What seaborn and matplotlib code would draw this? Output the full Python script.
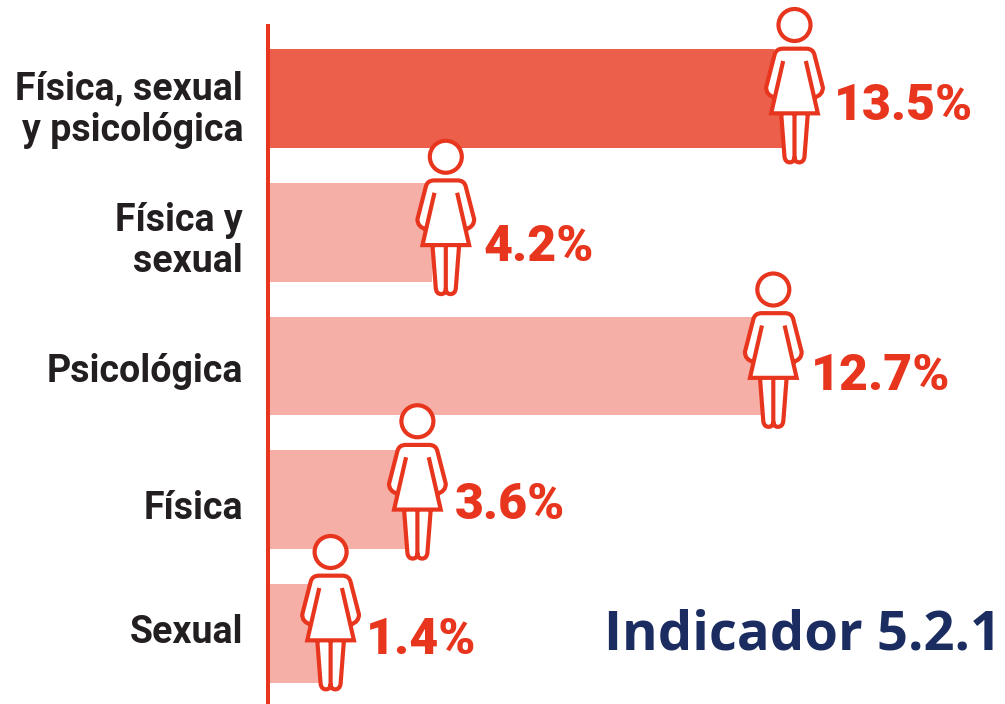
import numpy as np
import pandas as pd
import matplotlib
matplotlib.use('Agg')
import matplotlib.pyplot as plt
import seaborn as sns
from matplotlib.patches import Circle, PathPatch
from matplotlib.path import Path
from matplotlib.transforms import Affine2D

categories = ['Física, sexual\ny psicológica', 'Física y\nsexual', 'Psicológica', 'Física', 'Sexual']
values = [13.5, 4.2, 12.7, 3.6, 1.4]
value_labels = ['13.5%', '4.2%', '12.7%', '3.6%', '1.4%']
indicator = 'Indicador 5.2.1'

RED = '#E8351E'
DARK_BAR = '#EC5F4B'
LIGHT_BAR = '#F5AFA6'
NAVY = '#1B2D60'
W, H = 1005, 704
STEP = 133.75

sns.set_theme(style='white')
plt.rcParams['font.family'] = ['Roboto', 'DejaVu Sans']

fig = plt.figure(figsize=(W / 100, H / 100), dpi=100)
ax = fig.add_axes([268 / W, 0, (W - 268) / W, 1])

df = pd.DataFrame({'cat': categories, 'val': values})
colors = [DARK_BAR] + [LIGHT_BAR] * 4
sns.barplot(data=df, x='val', y='cat', hue='cat', palette=colors, legend=False,
            width=0.74, saturation=1, linewidth=0, ax=ax)

ax.set_xlim(0, (W - 268) / 39)
ax.set_ylim((H - 98.5) / STEP, -98.5 / STEP)
ax.set_xlabel('')
ax.set_ylabel('')
ax.set_xticks([])
ax.set_yticks([])
for s in ['top', 'right', 'bottom']:
    ax.spines[s].set_visible(False)
ax.spines['left'].set_color(RED)
ax.spines['left'].set_linewidth(2.9)
ax.spines['left'].set_bounds((H - 98.5) / STEP, (26 - 98.5) / STEP)


# woman icon, units are 1/3 px around the head centre, y down
def icon_paths():
    M, L, C = Path.MOVETO, Path.LINETO, Path.CURVE3
    outer = [(-35, 71), (-60, 71), (-67, 110), (-82, 187), (-82, 205), (-60, 218),
             (-70, 265), (-40, 265), (-30, 395), (-28, 412), (-8, 412), (0, 395),
             (8, 412), (28, 412), (30, 395), (40, 265), (70, 265), (60, 218),
             (82, 205), (82, 187), (67, 110), (60, 71), (35, 71)]
    fill = Path(outer + [outer[0]], [M] + [L] * (len(outer) - 1) + [Path.CLOSEPOLY])

    v, c = [], []

    def add(pts, codes):
        v.extend(pts)
        c.extend(codes)

    # shoulders and arms
    add([(-59, 218), (-86, 210), (-85, 187), (-60, 90), (-56, 71), (-35, 71), (35, 71),
         (56, 71), (60, 90), (85, 187), (86, 210), (59, 218)],
        [M, C, C, L, C, C, L, C, C, L, C, C])
    # dress
    add([(-34, 108), (-70, 265), (70, 265), (34, 108)], [M, L, L, L])
    # legs
    add([(-40, 265), (-30, 395), (-28, 412), (-14, 412), (0, 412), (0, 395), (0, 265)],
        [M, L, C, C, C, C, L])
    add([(0, 395), (0, 412), (14, 412), (28, 412), (30, 395), (40, 265)],
        [M, C, C, C, C, L])
    return fill, Path(v, c)


fill_path, line_path = icon_paths()

# head position relative to bar end / bar centre, in px
icon_dx = [0, 14, 10, 9, 8]
icon_dy = [-73.5, -75.5, -76.5, -78.5, -81.5]
text_base = [95, 104, 100, 98, 102]
text_dx = [39, 38, 38, 37, 35]
cat_dy = [-11.5, -8.5, -5.5, -8.5, 1.5]

fig.canvas.draw()
for i, (val, lab) in enumerate(zip(values, value_labels)):
    x0, y0 = ax.transData.transform((val, i))
    hx, hy = x0 + icon_dx[i], y0 - icon_dy[i]
    tr = Affine2D().scale(1 / 3, -1 / 3).translate(hx, hy)
    ax.add_patch(PathPatch(fill_path, fc='white', ec='none', transform=tr, clip_on=False, zorder=4))
    ax.add_patch(PathPatch(line_path, fc='none', ec=RED, lw=3.0, transform=tr, clip_on=False,
                           zorder=5, joinstyle='miter', capstyle='butt'))
    ax.add_patch(Circle((hx, hy), 16, fc='white', ec=RED, lw=3.0,
                        transform=Affine2D(), clip_on=False, zorder=5))
    ax.annotate(lab, xy=(val, i), xycoords='data',
                xytext=(hx + text_dx[i], hy - text_base[i]), textcoords='figure pixels',
                ha='left', va='baseline', color=RED, fontsize=36, fontweight=900, zorder=6)
    ax.annotate(categories[i], xy=(0, i), xycoords='data', xytext=(-25, cat_dy[i]),
                textcoords='offset pixels', ha='right', va='center', color='#231F20',
                fontsize=27, fontweight='bold', linespacing=1.15, annotation_clip=False)

fig.text(1001 / W, 1 - 650 / H, indicator, ha='right', va='baseline', color=NAVY,
         fontsize=39.15, fontweight='bold', family='Open Sans')

fig.savefig('out.png', dpi=100)
plt.close(fig)
